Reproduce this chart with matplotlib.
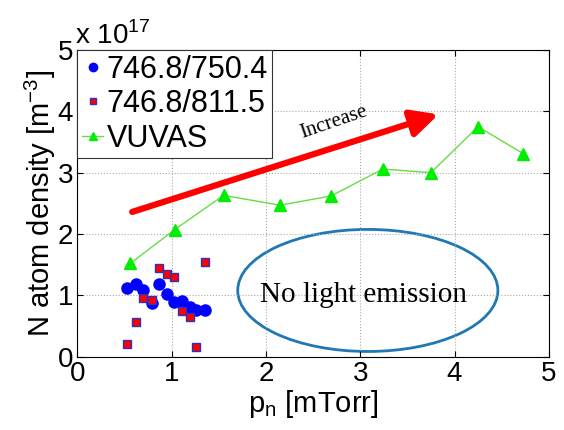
import matplotlib
matplotlib.use("Agg")
import matplotlib.pyplot as plt
from matplotlib.patches import Ellipse

# data (density in units of 1e17 m^-3)
p_ratio = [0.53, 0.62, 0.70, 0.79, 0.87, 0.95, 1.02, 1.11, 1.19, 1.26, 1.35]
n_750 = [1.12, 1.18, 1.08, 0.87, 1.19, 1.03, 0.89, 0.91, 0.81, 0.76, 0.76]
n_811 = [0.20, 0.56, 0.96, 0.92, 1.44, 1.34, 1.30, 0.75, 0.64, 0.15, 1.54]

p_vuvas = [0.56, 1.03, 1.55, 2.15, 2.69, 3.24, 3.75, 4.25, 4.73]
n_vuvas = [1.52, 2.07, 2.63, 2.47, 2.62, 3.06, 3.00, 3.75, 3.31]

plt.rcParams['font.family'] = ['Liberation Sans', 'DejaVu Sans']

fig = plt.figure(figsize=(5.64, 4.30), dpi=100)
ax = fig.add_axes([0.1374, 0.1705, 0.8356, 0.7132])

ax.plot(p_ratio, n_750, 'o', color='#0000ff', markersize=8, markeredgecolor='#0000ff',
        label='746.8/750.4', zorder=3)
ax.plot(p_ratio, n_811, 's', color='#ff0000', markersize=6, markeredgecolor='#3030c0',
        markeredgewidth=1, label='746.8/811.5', zorder=3)
ax.plot(p_vuvas, n_vuvas, '-^', color='#66dd44', markerfacecolor='#00ee00',
        markeredgecolor='#00ee00', markersize=8, lw=1, label='VUVAS', zorder=3)

# arrow + text
ax.annotate('', xy=(3.83, 3.95), xytext=(0.58, 2.36),
            arrowprops=dict(arrowstyle='-|>,head_length=0.9,head_width=0.45',
                            lw=4.5, color='#ff0000', mutation_scale=18,
                            shrinkA=0, shrinkB=0), zorder=4)
ax.text(2.72, 3.82, 'Increase', family='Liberation Serif', fontsize=15,
        rotation=19, ha='center', va='center')

ell = Ellipse((3.08, 1.08), 2.76, 1.99, fill=False, edgecolor='#1f77b4', lw=2)
ax.add_patch(ell)
ax.text(3.03, 1.0, 'No light emission', family='Liberation Serif', fontsize=21,
        ha='center', va='center')

ax.set_xlim(0, 5)
ax.set_ylim(0, 5)
ax.set_xticks([0, 1, 2, 3, 4, 5])
ax.set_yticks([0, 1, 2, 3, 4, 5])
ax.grid(True, linestyle=':', color='#aaaaaa', lw=0.8)
ax.tick_params(direction='in', top=True, right=True, labelsize=20, length=4, pad=3)
for s in ax.spines.values():
    s.set_linewidth(0.8)

ax.set_xlabel(r'p$_\mathregular{n}$ [mTorr]', fontsize=21, labelpad=1)
ax.set_ylabel(r'N atom density [m$^\mathregular{-3}$]', fontsize=21, labelpad=0)

ax.text(-0.005, 1.0, r'x 10$^\mathregular{17}$', transform=ax.transAxes, fontsize=20,
        ha='left', va='bottom')

leg = ax.legend(loc='upper left', borderaxespad=0, fontsize=22, fancybox=False,
                edgecolor='#333333', framealpha=1, handlelength=0.7,
                handletextpad=0.1, borderpad=0.15, labelspacing=0.15, markerscale=0.75)
leg.get_frame().set_linewidth(0.8)

fig.savefig('out.png', dpi=100)
